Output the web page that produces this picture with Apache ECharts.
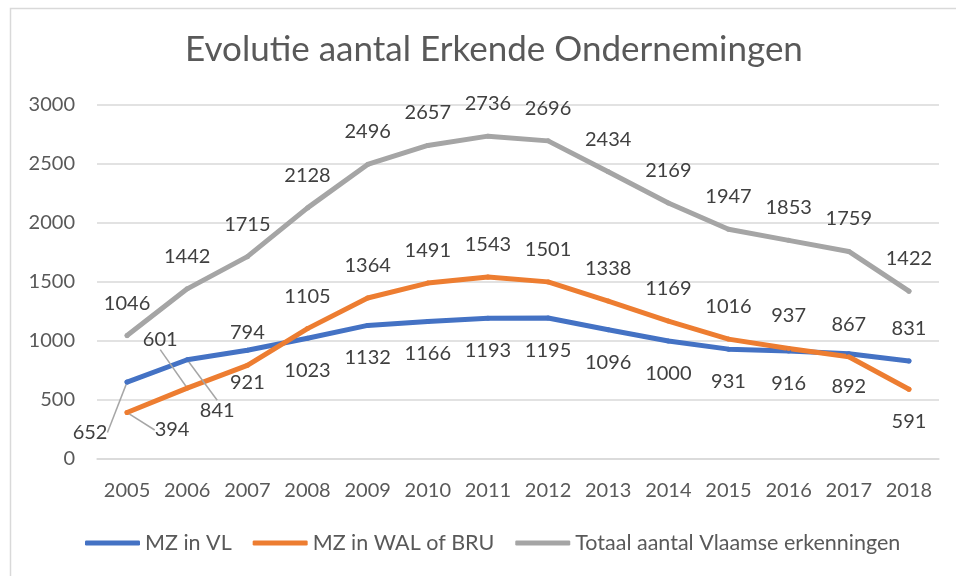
<!DOCTYPE html>
<html>
<head>
<meta charset="utf-8">
<script src="https://cdn.jsdelivr.net/npm/echarts@6/dist/echarts.min.js"></script>
<style>
  html, body { margin: 0; padding: 0; background: #fff; }
  #chart { width: 956px; height: 576px; }
</style>
</head>
<body>
<div id="chart"></div>
<script>
// jaren en reeksen
const years = ['2005', '2006', '2007', '2008', '2009', '2010', '2011', '2012', '2013', '2014', '2015', '2016', '2017', '2018'];
const mzVl = [652, 841, 921, 1023, 1132, 1166, 1193, 1195, 1096, 1000, 931, 916, 892, 831];
const mzWalBru = [394, 601, 794, 1105, 1364, 1491, 1543, 1501, 1338, 1169, 1016, 937, 867, 591];
const totaal = [1046, 1442, 1715, 2128, 2496, 2657, 2736, 2696, 2434, 2169, 1947, 1853, 1759, 1422];
const seriesNames = ['MZ in VL', 'MZ in WAL of BRU', 'Totaal aantal Vlaamse erkenningen'];

const FONT = 'Lato, "Liberation Sans", sans-serif';
const labelBase = { show: true, fontFamily: FONT, fontSize: 20, color: '#404040', distance: 20 };
const leader = { show: true, lineStyle: { color: '#a6a6a6', width: 1.5 } };

function lineSeries (name, values, color, pos, flip) {
  return {
    type: 'line',
    name: name,
    symbol: 'circle',
    symbolSize: 5,
    itemStyle: { color: color },
    lineStyle: { color: color, width: 5, cap: 'round', join: 'round' },
    emphasis: { disabled: true },
    label: Object.assign({ position: pos }, labelBase),
    data: values.map((v, i) => {
      const item = { value: v }
      if (flip.indexOf(i) >= 0) item.label = { position: pos === 'top' ? 'bottom' : 'top' }
      return item
    })
  }
}

const chart = echarts.init(document.getElementById('chart'));

const blue = lineSeries(seriesNames[0], mzVl, '#4472C4', 'bottom', [13]);
blue.data[0].labelLine = leader;
blue.data[1].labelLine = leader;
blue.labelLayout = function (p) {
  if (p.dataIndex === 0) return { dx: -37, dy: 18 };
  if (p.dataIndex === 1) return { dx: 30, dy: 18 };
  return {};
};

const orange = lineSeries(seriesNames[1], mzWalBru, '#ED7D31', 'top', [13]);
orange.data[0].labelLine = leader;
orange.data[1].labelLine = leader;
orange.labelLayout = function (p) {
  if (p.dataIndex === 0) return { dx: 45, dy: 50 };
  if (p.dataIndex === 1) return { dx: -27, dy: -16 };
  return {};
};

const grey = lineSeries(seriesNames[2], totaal, '#A5A5A5', 'top', []);

chart.setOption({
  animation: false,
  textStyle: { fontFamily: FONT },
  title: {
    text: 'Evolutie aantal Erkende Ondernemingen',
    left: 489,
    textAlign: 'center',
    top: 27,
    textStyle: { fontFamily: FONT, fontSize: 35, fontWeight: 'normal', color: '#595959' }
  },
  graphic: [{
    type: 'rect',
    left: 8,
    top: 6,
    shape: { width: 1000, height: 620 },
    style: { fill: 'none', stroke: '#d9d9d9', lineWidth: 1.5 },
    silent: true
  }],
  legend: {
    data: seriesNames,
    bottom: 17,
    left: 80,
    icon: 'roundRect',
    itemWidth: 55,
    itemHeight: 5,
    itemGap: 21,
    textStyle: { fontFamily: FONT, fontSize: 21.5, color: '#595959' }
  },
  grid: { left: 97, right: 17, top: 105, bottom: 117 },
  xAxis: {
    type: 'category',
    data: years,
    axisTick: { show: false },
    axisLine: { lineStyle: { color: '#d9d9d9', width: 1.5 } },
    axisLabel: { fontFamily: FONT, fontSize: 20, color: '#595959', margin: 22, interval: 0 }
  },
  yAxis: {
    type: 'value',
    min: 0,
    max: 3000,
    interval: 500,
    axisLine: { show: false },
    axisTick: { show: false },
    splitLine: { lineStyle: { color: '#d9d9d9', width: 1.5 } },
    axisLabel: { fontFamily: FONT, fontSize: 20, color: '#595959', margin: 22, formatter: v => String(v) }
  },
  series: [blue, orange, grey]
});
</script>
</body>
</html>
